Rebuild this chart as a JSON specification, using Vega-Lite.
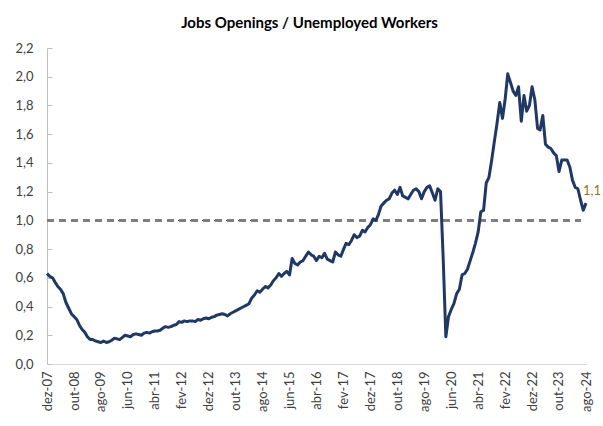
{
  "$schema": "https://vega.github.io/schema/vega-lite/v6.json",
  "width": 539,
  "height": 316,
  "autosize": {"type": "none"},
  "padding": {"left": 47, "top": 48, "right": 17, "bottom": 62},
  "background": "white",
  "title": {
    "text": "Jobs Openings / Unemployed Workers",
    "font": "Lato",
    "fontSize": 15,
    "fontWeight": "bold",
    "color": "#000000",
    "anchor": "middle",
    "frame": "group",
    "dx": -7,
    "offset": 11
  },
  "config": {
    "view": {"stroke": null},
    "locale": {"number": {"decimal": ",", "thousands": ".", "grouping": [3], "currency": ["", ""]}},
    "axis": {"grid": false, "labelOverlap": false, "labelFont": "Lato", "labelFontSize": 13, "labelColor": "#404040", "domainColor": "#bfbfbf", "tickColor": "#bfbfbf"}
  },
  "data": {"values": [
    {"d":"2007-12","v":0.63},{"d":"2008-01","v":0.61},{"d":"2008-02","v":0.60},{"d":"2008-03","v":0.57},{"d":"2008-04","v":0.54},{"d":"2008-05","v":0.52},{"d":"2008-06","v":0.49},{"d":"2008-07","v":0.43},{"d":"2008-08","v":0.39},{"d":"2008-09","v":0.35},{"d":"2008-10","v":0.33},{"d":"2008-11","v":0.31},
    {"d":"2008-12","v":0.27},{"d":"2009-01","v":0.24},{"d":"2009-02","v":0.22},{"d":"2009-03","v":0.19},{"d":"2009-04","v":0.17},{"d":"2009-05","v":0.17},{"d":"2009-06","v":0.16},{"d":"2009-07","v":0.155},{"d":"2009-08","v":0.15},{"d":"2009-09","v":0.16},{"d":"2009-10","v":0.15},{"d":"2009-11","v":0.155},
    {"d":"2009-12","v":0.165},{"d":"2010-01","v":0.18},{"d":"2010-02","v":0.175},{"d":"2010-03","v":0.17},{"d":"2010-04","v":0.185},{"d":"2010-05","v":0.20},{"d":"2010-06","v":0.195},{"d":"2010-07","v":0.19},{"d":"2010-08","v":0.205},{"d":"2010-09","v":0.21},{"d":"2010-10","v":0.205},{"d":"2010-11","v":0.20},
    {"d":"2010-12","v":0.215},{"d":"2011-01","v":0.22},{"d":"2011-02","v":0.215},{"d":"2011-03","v":0.225},{"d":"2011-04","v":0.23},{"d":"2011-05","v":0.23},{"d":"2011-06","v":0.235},{"d":"2011-07","v":0.25},{"d":"2011-08","v":0.26},{"d":"2011-09","v":0.255},{"d":"2011-10","v":0.26},{"d":"2011-11","v":0.27},
    {"d":"2011-12","v":0.275},{"d":"2012-01","v":0.295},{"d":"2012-02","v":0.29},{"d":"2012-03","v":0.30},{"d":"2012-04","v":0.295},{"d":"2012-05","v":0.30},{"d":"2012-06","v":0.30},{"d":"2012-07","v":0.295},{"d":"2012-08","v":0.31},{"d":"2012-09","v":0.305},{"d":"2012-10","v":0.315},{"d":"2012-11","v":0.32},
    {"d":"2012-12","v":0.315},{"d":"2013-01","v":0.325},{"d":"2013-02","v":0.33},{"d":"2013-03","v":0.34},{"d":"2013-04","v":0.345},{"d":"2013-05","v":0.35},{"d":"2013-06","v":0.345},{"d":"2013-07","v":0.335},{"d":"2013-08","v":0.35},{"d":"2013-09","v":0.36},{"d":"2013-10","v":0.37},{"d":"2013-11","v":0.38},
    {"d":"2013-12","v":0.39},{"d":"2014-01","v":0.40},{"d":"2014-02","v":0.41},{"d":"2014-03","v":0.42},{"d":"2014-04","v":0.46},{"d":"2014-05","v":0.48},{"d":"2014-06","v":0.51},{"d":"2014-07","v":0.50},{"d":"2014-08","v":0.52},{"d":"2014-09","v":0.54},{"d":"2014-10","v":0.53},{"d":"2014-11","v":0.55},
    {"d":"2014-12","v":0.58},{"d":"2015-01","v":0.60},{"d":"2015-02","v":0.63},{"d":"2015-03","v":0.61},{"d":"2015-04","v":0.63},{"d":"2015-05","v":0.645},{"d":"2015-06","v":0.62},{"d":"2015-07","v":0.735},{"d":"2015-08","v":0.70},{"d":"2015-09","v":0.69},{"d":"2015-10","v":0.71},{"d":"2015-11","v":0.72},
    {"d":"2015-12","v":0.75},{"d":"2016-01","v":0.78},{"d":"2016-02","v":0.76},{"d":"2016-03","v":0.75},{"d":"2016-04","v":0.72},{"d":"2016-05","v":0.75},{"d":"2016-06","v":0.74},{"d":"2016-07","v":0.77},{"d":"2016-08","v":0.73},{"d":"2016-09","v":0.72},{"d":"2016-10","v":0.71},{"d":"2016-11","v":0.78},
    {"d":"2016-12","v":0.76},{"d":"2017-01","v":0.75},{"d":"2017-02","v":0.80},{"d":"2017-03","v":0.84},{"d":"2017-04","v":0.83},{"d":"2017-05","v":0.86},{"d":"2017-06","v":0.90},{"d":"2017-07","v":0.88},{"d":"2017-08","v":0.89},{"d":"2017-09","v":0.93},{"d":"2017-10","v":0.92},{"d":"2017-11","v":0.95},
    {"d":"2017-12","v":0.97},{"d":"2018-01","v":1.01},{"d":"2018-02","v":1.00},{"d":"2018-03","v":1.04},{"d":"2018-04","v":1.10},{"d":"2018-05","v":1.12},{"d":"2018-06","v":1.14},{"d":"2018-07","v":1.15},{"d":"2018-08","v":1.19},{"d":"2018-09","v":1.21},{"d":"2018-10","v":1.18},{"d":"2018-11","v":1.23},
    {"d":"2018-12","v":1.17},{"d":"2019-01","v":1.16},{"d":"2019-02","v":1.15},{"d":"2019-03","v":1.18},{"d":"2019-04","v":1.21},{"d":"2019-05","v":1.22},{"d":"2019-06","v":1.20},{"d":"2019-07","v":1.15},{"d":"2019-08","v":1.20},{"d":"2019-09","v":1.23},{"d":"2019-10","v":1.24},{"d":"2019-11","v":1.19},
    {"d":"2019-12","v":1.14},{"d":"2020-01","v":1.22},{"d":"2020-02","v":1.20},{"d":"2020-03","v":0.75},{"d":"2020-04","v":0.19},{"d":"2020-05","v":0.33},{"d":"2020-06","v":0.38},{"d":"2020-07","v":0.42},{"d":"2020-08","v":0.49},{"d":"2020-09","v":0.52},{"d":"2020-10","v":0.62},{"d":"2020-11","v":0.63},
    {"d":"2020-12","v":0.66},{"d":"2021-01","v":0.72},{"d":"2021-02","v":0.78},{"d":"2021-03","v":0.84},{"d":"2021-04","v":0.92},{"d":"2021-05","v":1.06},{"d":"2021-06","v":1.07},{"d":"2021-07","v":1.26},{"d":"2021-08","v":1.30},{"d":"2021-09","v":1.42},{"d":"2021-10","v":1.55},{"d":"2021-11","v":1.68},
    {"d":"2021-12","v":1.82},{"d":"2022-01","v":1.71},{"d":"2022-02","v":1.85},{"d":"2022-03","v":2.02},{"d":"2022-04","v":1.96},{"d":"2022-05","v":1.90},{"d":"2022-06","v":1.87},{"d":"2022-07","v":1.93},{"d":"2022-08","v":1.69},{"d":"2022-09","v":1.87},{"d":"2022-10","v":1.76},{"d":"2022-11","v":1.80},
    {"d":"2022-12","v":1.93},{"d":"2023-01","v":1.84},{"d":"2023-02","v":1.64},{"d":"2023-03","v":1.63},{"d":"2023-04","v":1.73},{"d":"2023-05","v":1.53},{"d":"2023-06","v":1.51},{"d":"2023-07","v":1.50},{"d":"2023-08","v":1.47},{"d":"2023-09","v":1.45},{"d":"2023-10","v":1.34},{"d":"2023-11","v":1.42},
    {"d":"2023-12","v":1.42},{"d":"2024-01","v":1.42},{"d":"2024-02","v":1.37},{"d":"2024-03","v":1.28},{"d":"2024-04","v":1.23},{"d":"2024-05","v":1.22},{"d":"2024-06","v":1.14},{"d":"2024-07","v":1.07},{"d":"2024-08","v":1.12}
  ]},
  "layer": [
    {
      "mark": {"type": "rule", "color": "#7f7f7f", "strokeWidth": 2, "strokeDash": [7, 5]},
      "encoding": {
        "x": {"datum": {"year": 2007, "month": 12, "date": 1, "utc": true}, "type": "temporal"},
        "x2": {"datum": {"year": 2024, "month": 6, "date": 1, "utc": true}},
        "y": {"datum": 1, "type": "quantitative"}
      }
    },
    {
      "mark": {"type": "line", "color": "#1f3864", "strokeWidth": 3, "strokeJoin": "round"},
      "encoding": {
        "x": {
          "field": "d", "type": "temporal",
          "scale": {"type": "utc", "domain": [{"year": 2007, "month": 12, "date": 1, "utc": true}, {"year": 2024, "month": 8, "date": 1, "utc": true}]},
          "axis": {
            "title": null,
            "ticks": false,
            "tickCount": 50,
            "domainColor": "#d9d9d9",
            "labelAngle": 270,
            "labelPadding": 7,
            "labelFlush": false,
            "labelOverlap": false,
            "values": [
              {"year": 2007, "month": 12, "date": 1, "utc": true},
              {"year": 2008, "month": 10, "date": 1, "utc": true},
              {"year": 2009, "month": 8, "date": 1, "utc": true},
              {"year": 2010, "month": 6, "date": 1, "utc": true},
              {"year": 2011, "month": 4, "date": 1, "utc": true},
              {"year": 2012, "month": 2, "date": 1, "utc": true},
              {"year": 2012, "month": 12, "date": 1, "utc": true},
              {"year": 2013, "month": 10, "date": 1, "utc": true},
              {"year": 2014, "month": 8, "date": 1, "utc": true},
              {"year": 2015, "month": 6, "date": 1, "utc": true},
              {"year": 2016, "month": 4, "date": 1, "utc": true},
              {"year": 2017, "month": 2, "date": 1, "utc": true},
              {"year": 2017, "month": 12, "date": 1, "utc": true},
              {"year": 2018, "month": 10, "date": 1, "utc": true},
              {"year": 2019, "month": 8, "date": 1, "utc": true},
              {"year": 2020, "month": 6, "date": 1, "utc": true},
              {"year": 2021, "month": 4, "date": 1, "utc": true},
              {"year": 2022, "month": 2, "date": 1, "utc": true},
              {"year": 2022, "month": 12, "date": 1, "utc": true},
              {"year": 2023, "month": 10, "date": 1, "utc": true},
              {"year": 2024, "month": 8, "date": 1, "utc": true}
            ],
            "labelExpr": "['jan','fev','mar','abr','mai','jun','jul','ago','set','out','nov','dez'][utcmonth(datum.value)] + '-' + utcFormat(datum.value, '%y')"
          }
        },
        "y": {
          "field": "v", "type": "quantitative",
          "scale": {"domain": [0, 2.2], "nice": false},
          "axis": {
            "title": null,
            "tickCount": 50,
            "values": [0, 0.2, 0.4, 0.6, 0.8, 1.0, 1.2, 1.4, 1.6, 1.8, 2.0, 2.2],
            "format": ".1f",
            "labelOverlap": false,
            "tickSize": -5,
            "labelPadding": 19
          }
        }
      }
    },
    {
      "transform": [{"filter": "utcyear(datum.d) == 2024 && utcmonth(datum.d) == 7"}],
      "mark": {"type": "text", "align": "left", "baseline": "alphabetic", "dx": -3, "dy": -8, "font": "Lato", "fontSize": 13, "color": "#a0701c"},
      "encoding": {
        "x": {"field": "d", "type": "temporal"},
        "y": {"field": "v", "type": "quantitative"},
        "text": {"field": "v", "type": "quantitative", "format": ".1f"}
      }
    }
  ]
}
